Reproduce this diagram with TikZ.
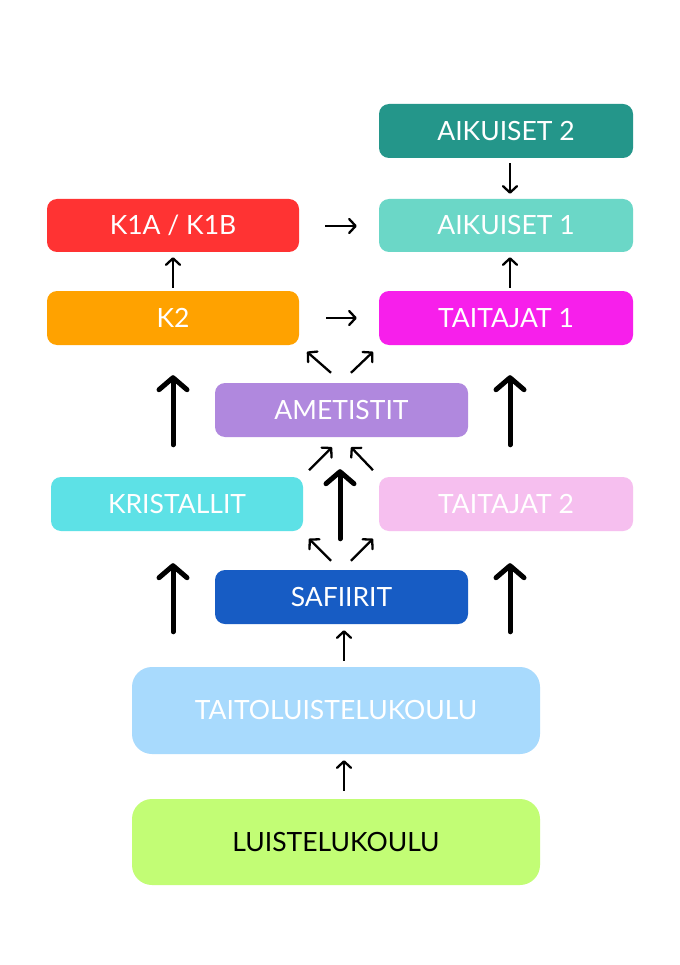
\documentclass[tikz,border=0pt]{standalone}
\usepackage{fontspec}
\setmainfont{Lato}
\usetikzlibrary{arrows.meta}
\definecolor{caik2}{RGB}{36,150,138}
\definecolor{caik1}{RGB}{107,215,199}
\definecolor{ck1}{RGB}{255,51,51}
\definecolor{ck2}{RGB}{255,162,0}
\definecolor{ctai1}{RGB}{247,31,235}
\definecolor{camet}{RGB}{176,136,222}
\definecolor{ckris}{RGB}{93,225,230}
\definecolor{ctai2}{RGB}{246,191,239}
\definecolor{csaf}{RGB}{23,92,196}
\definecolor{ctaito}{RGB}{168,218,253}
\definecolor{cluis}{RGB}{194,253,117}
\tikzset{
  box/.style={rectangle, rounded corners=10pt, minimum width=254pt, minimum height=54pt,
    inner sep=0pt, text=white, font=\fontsize{26.5}{31}\selectfont},
  bigbox/.style={box, rounded corners=20pt, minimum width=408pt, minimum height=87pt},
  thinarr/.style={line width=2.3pt, -{Straight Barb[length=6.5pt,width=14pt,line cap=round,line join=round]}},
  thickarr/.style={line width=5pt, line cap=round, -{Straight Barb[length=12pt,width=28pt,line cap=round,line join=round]}},
}
\begin{document}
\begin{tikzpicture}[x=1pt,y=-1pt]
\useasboundingbox[fill=white] (0,0) rectangle (679,965);
\node[box, fill=caik2] (aik2) at (506,131) {AIKUISET 2};
\node[box, fill=ck1, minimum width=252pt, minimum height=53pt] (k1) at (173,225.5) {K1A / K1B};
\node[box, fill=caik1, minimum height=53pt] (aik1) at (506,225.5) {AIKUISET 1};
\node[box, fill=ck2, minimum width=252pt] (k2) at (173,318) {K2};
\node[box, fill=ctai1] (tai1) at (506,318) {TAITAJAT 1};
\node[box, fill=camet, minimum width=253pt] (amet) at (341.5,410) {AMETISTIT};
\node[box, fill=ckris, minimum width=252pt] (kris) at (177,504) {KRISTALLIT};
\node[box, fill=ctai2] (tai2) at (506,504) {TAITAJAT 2};
\node[box, fill=csaf, minimum width=253pt] (saf) at (341.5,597) {SAFIIRIT};
\node[bigbox, fill=ctaito] (taito) at (336,710.5) {TAITOLUISTELUKOULU};
\node[bigbox, fill=cluis, text=black, minimum height=86pt] (luis) at (336,842) {LUISTELUKOULU};

% top area
\draw[thinarr, shorten <=5pt, shorten >=5pt] ([xshift=4pt]aik2.south) -- ([xshift=4pt]aik1.north);
\draw[thinarr, shorten <=26pt, shorten >=22pt] ([yshift=-0.5pt]k1.east) -- ([yshift=-0.5pt]aik1.west);
\draw[thinarr, shorten <=3pt, shorten >=5pt] (k2.north) -- (k1.south);
\draw[thinarr, shorten <=3pt, shorten >=5pt] ([xshift=4pt]tai1.north) -- ([xshift=4pt]aik1.south);
\draw[thinarr, shorten <=27pt, shorten >=22pt] (k2.east) -- (tai1.west);

% around AMETISTIT
\draw[thinarr] ([xshift=-10.5pt,yshift=10pt]amet.north) -- ([xshift=-34.5pt,yshift=31pt]amet.north);
\draw[thinarr] ([xshift=9.5pt,yshift=10pt]amet.north) -- ([xshift=31.5pt,yshift=31pt]amet.north);
\draw[thickarr, shorten <=32pt, shorten >=30pt] (kris.north -| k2.south) -- (k2.south);
\draw[thickarr, shorten <=32pt, shorten >=30pt] ([xshift=4pt]tai2.north) -- ([xshift=4pt]tai1.south);
\draw[thickarr, shorten <=31pt, shorten >=32pt] ([xshift=-1.5pt]saf.north) -- ([xshift=-1.5pt]amet.south);
\draw[thinarr] ([xshift=-32.5pt,yshift=-33pt]amet.south) -- ([xshift=-9.5pt,yshift=-10pt]amet.south);
\draw[thinarr] ([xshift=31.5pt,yshift=-33pt]amet.south) -- ([xshift=9.5pt,yshift=-10pt]amet.south);

% around SAFIIRIT
\draw[thinarr] ([xshift=-10.5pt,yshift=9pt]saf.north) -- ([xshift=-32.5pt,yshift=31pt]saf.north);
\draw[thinarr] ([xshift=9.5pt,yshift=9pt]saf.north) -- ([xshift=31.5pt,yshift=31pt]saf.north);
\draw[thickarr, shorten <=35pt, shorten >=32pt] (taito.north -| k2.south) -- (kris.south -| k2.south);
\draw[thickarr, shorten <=35pt, shorten >=32pt] (taito.north -| tai2.south) ++(4pt,0) coordinate (tb) (tb) -- (tb |- tai2.south);

% bottom
\draw[thinarr, shorten <=6pt, shorten >=6pt] ([xshift=8pt]taito.north) -- ([xshift=8pt]taito.north |- saf.south);
\draw[thinarr, shorten <=8pt, shorten >=6pt] ([xshift=8pt]luis.north) -- ([xshift=8pt]taito.south);
\end{tikzpicture}
\end{document}
